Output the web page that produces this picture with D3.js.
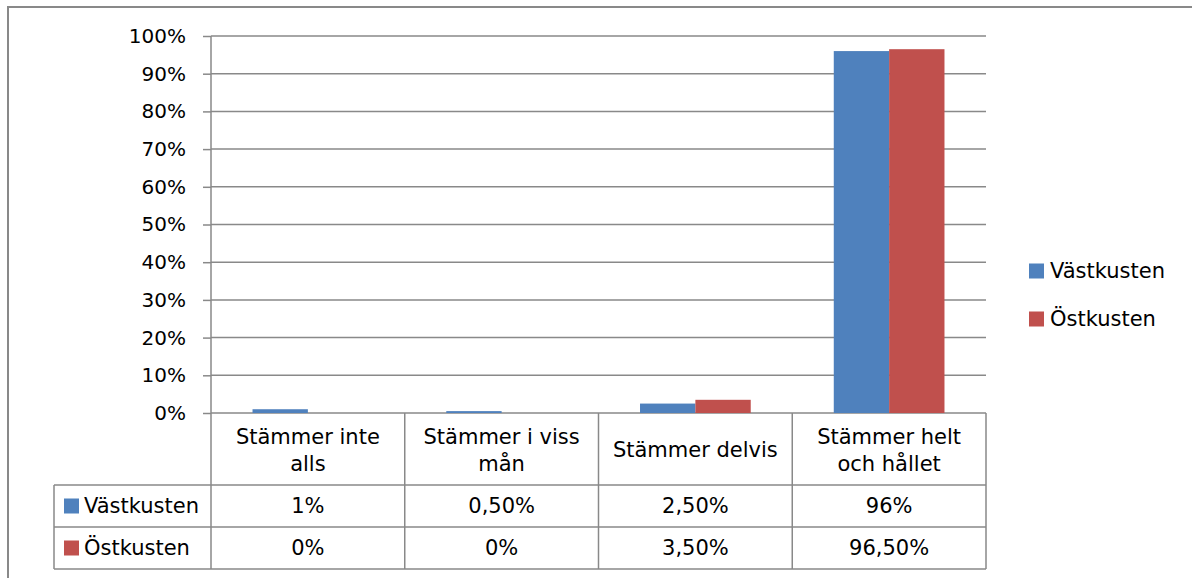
<!DOCTYPE html>
<html lang="sv">
<head>
  <meta charset="UTF-8">
  <title>Stämmer</title>
  <script src="https://d3js.org/d3.v7.min.js"></script>
  <style>
    * { margin: 0; padding: 0; }
    body { background-color: #fff; }
    svg text { font-family: "DejaVu Sans", sans-serif; fill: #000; }
  </style>
</head>
<body>
  <svg id="chart" width="1192" height="578"></svg>

  <script>
    // data
    var categories = ["Stämmer inte alls", "Stämmer i viss mån", "Stämmer delvis", "Stämmer helt och hållet"];
    var headerLines = [["Stämmer inte", "alls"], ["Stämmer i viss", "mån"], ["Stämmer delvis"], ["Stämmer helt", "och hållet"]];
    var seriesNames = ["Västkusten", "Östkusten"];
    var vastkusten = [0.01, 0.005, 0.025, 0.96];
    var ostkusten = [0, 0, 0.035, 0.965];
    var vastLabels = ["1%", "0,50%", "2,50%", "96%"];
    var ostLabels = ["0%", "0%", "3,50%", "96,50%"];
    var yTicks = [0, 0.1, 0.2, 0.3, 0.4, 0.5, 0.6, 0.7, 0.8, 0.9, 1];

    var colors = ["#4F81BD", "#C0504D"];
    var lineColor = "#898989";
    var fs = 21;

    // plot area (top/left are window props, so use other names)
    var pLeft = 211, pRight = 986, pTop = 36, pBottom = 413;
    var headerBottom = 485, row1Bottom = 527, row2Bottom = 569, legendLeft = 54;

    var svg = d3.select("#chart");

    // outer frame (only top and left visible)
    svg.append("path")
      .attr("d", "M8,578V7H1192")
      .attr("fill", "none").attr("stroke", lineColor).attr("stroke-width", 2);

    var x0 = d3.scaleBand().domain(categories).range([pLeft, pRight]);
    var x1 = d3.scaleBand().domain(seriesNames).range([0, x0.bandwidth()]).paddingOuter(0.75);
    var y = d3.scaleLinear().domain([0, 1]).range([pBottom, pTop]);

    // gridlines
    svg.append("g").selectAll("line").data(yTicks).enter().append("line")
      .attr("x1", pLeft).attr("x2", pRight)
      .attr("y1", function(d) { return y(d); }).attr("y2", function(d) { return y(d); })
      .attr("stroke", lineColor).attr("stroke-width", 1.5);

    // y axis
    var yAxis = d3.axisLeft(y).tickValues(yTicks).tickFormat(d3.format(".0%"))
      .tickSize(8).tickPadding(17);
    var ga = svg.append("g").attr("transform", "translate(" + pLeft + ",0)").call(yAxis);
    ga.select(".domain").remove();
    ga.selectAll(".tick line").attr("stroke", lineColor).attr("stroke-width", 1.5);
    ga.selectAll(".tick text").style("font-size", "20px").style("font-family", "'DejaVu Sans', sans-serif");

    // bars
    var series = [vastkusten, ostkusten];
    series.forEach(function(vals, si) {
      svg.append("g").selectAll("rect").data(vals).enter().append("rect")
        .attr("x", function(d, i) { return x0(categories[i]) + x1(seriesNames[si]); })
        .attr("width", x1.bandwidth())
        .attr("y", function(d) { return y(d); })
        .attr("height", function(d) { return pBottom - y(d); })
        .attr("fill", colors[si]);
    });

    // data table lines
    var tl = svg.append("g").attr("stroke", lineColor).attr("stroke-width", 1.5);
    tl.append("line").attr("x1", pLeft).attr("x2", pLeft).attr("y1", pTop).attr("y2", row2Bottom);
    var bounds = categories.map(function(c) { return x0(c) + x0.bandwidth(); });
    tl.selectAll(".v").data(bounds).enter().append("line").attr("class", "v")
      .attr("x1", function(d) { return d; }).attr("x2", function(d) { return d; })
      .attr("y1", pBottom).attr("y2", row2Bottom);
    tl.append("line").attr("x1", legendLeft).attr("x2", legendLeft).attr("y1", headerBottom).attr("y2", row2Bottom);
    tl.selectAll(".h").data([headerBottom, row1Bottom, row2Bottom]).enter().append("line").attr("class", "h")
      .attr("x1", legendLeft).attr("x2", pRight)
      .attr("y1", function(d) { return d; }).attr("y2", function(d) { return d; });

    // header texts
    var headerMid = (pBottom + headerBottom) / 2 + 1;
    headerLines.forEach(function(lines, i) {
      var cx = x0(categories[i]) + x0.bandwidth() / 2;
      var lh = 27;
      lines.forEach(function(t, j) {
        svg.append("text")
          .attr("x", cx)
          .attr("y", headerMid + (j - (lines.length - 1) / 2) * lh)
          .attr("dy", "0.35em")
          .attr("text-anchor", "middle")
          .style("font-size", fs + "px")
          .text(t);
      });
    });

    // table rows
    var rowMids = [(headerBottom + row1Bottom) / 2, (row1Bottom + row2Bottom) / 2];
    [vastLabels, ostLabels].forEach(function(labels, si) {
      var ry = rowMids[si];
      svg.append("rect").attr("x", 64).attr("y", ry - 7.5).attr("width", 15).attr("height", 15).attr("fill", colors[si]);
      svg.append("text").attr("x", 84).attr("y", ry).attr("dy", "0.35em")
        .style("font-size", fs + "px").text(seriesNames[si]);
      svg.append("g").selectAll("text").data(labels).enter().append("text")
        .attr("x", function(d, i) { return x0(categories[i]) + x0.bandwidth() / 2; })
        .attr("y", ry).attr("dy", "0.35em")
        .attr("text-anchor", "middle")
        .style("font-size", fs + "px")
        .text(function(d) { return d; });
    });

    // legend
    var legendY = [271, 319];
    seriesNames.forEach(function(n, si) {
      svg.append("rect").attr("x", 1029).attr("y", legendY[si] - 7.5).attr("width", 15).attr("height", 15).attr("fill", colors[si]);
      svg.append("text").attr("x", 1050).attr("y", legendY[si]).attr("dy", "0.35em")
        .style("font-size", fs + "px").text(n);
    });
  </script>
</body>
</html>
